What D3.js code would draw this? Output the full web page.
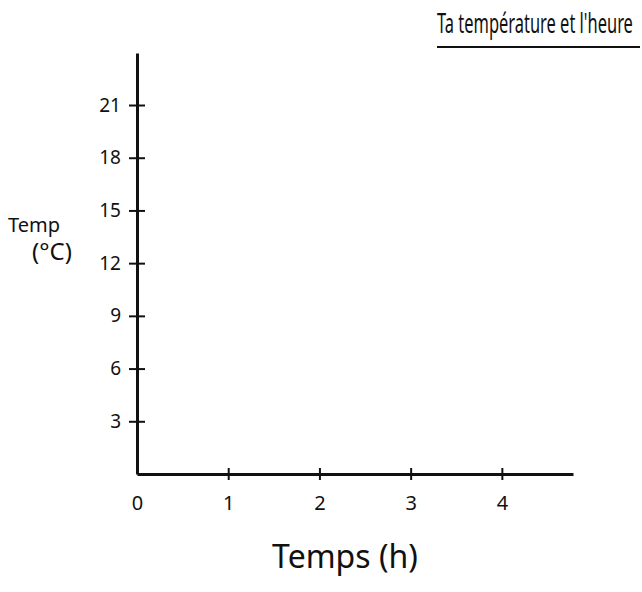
<!DOCTYPE html>
<html><head><meta charset="utf-8">
<script src="https://cdn.jsdelivr.net/npm/d3@7"></script>
<style>body{margin:0;background:#fff}svg{display:block}text{font-family:"Noto Sans",sans-serif;fill:#111}</style>
</head><body>
<script>
const title = "Ta température et l'heure";
const xLabel = "Temps (h)";
const yLabelLines = ["Temp", "(°C)"];
const xTicks = [0, 1, 2, 3, 4];
const yTicks = [3, 6, 9, 12, 15, 18, 21];
const xDomain = [0, 4.78];
const yDomain = [0, 23.96];

const W = 642, H = 592;
const svg = d3.select("body").append("svg").attr("width", W).attr("height", H);
const x = d3.scaleLinear().domain(xDomain).range([137, 573]);
const y = d3.scaleLinear().domain(yDomain).range([474, 53]);

const gx = svg.append("g").attr("transform", `translate(0,${y(0)})`)
  .call(d3.axisBottom(x).tickValues(xTicks).tickFormat(d3.format("d")).tickSize(6).tickSizeOuter(0).tickPadding(16));
gx.select(".domain").attr("stroke", "#111").attr("stroke-width", 3);
gx.selectAll(".tick line").attr("stroke", "#111").attr("stroke-width", 2).attr("y1", -6).attr("y2", 6)
  .filter(d => d === 0).remove();
gx.selectAll(".tick text").attr("font-size", 20).attr("font-family", "Noto Sans").attr("fill", "#111");

const gy = svg.append("g").attr("transform", `translate(${x(0)},0)`)
  .call(d3.axisLeft(y).tickValues(yTicks).tickFormat(d3.format("d")).tickSize(8).tickSizeOuter(0).tickPadding(8));
gy.select(".domain").attr("stroke", "#111").attr("stroke-width", 3);
gy.selectAll(".tick line").attr("stroke", "#111").attr("stroke-width", 2).attr("x1", -8).attr("x2", 8);
gy.selectAll(".tick text").attr("font-size", 19).attr("font-family", "Noto Sans").attr("fill", "#111");

const tg = svg.append("g");
const tt = tg.append("text").attr("x", 0).attr("y", 0).attr("font-size", 27).text(title);
const natural = tt.node().getComputedTextLength();
tg.attr("transform", `translate(437,33) scale(${196 / natural},1)`);
svg.append("line").attr("x1", 437).attr("x2", 640).attr("y1", 47).attr("y2", 47)
  .attr("stroke", "#111").attr("stroke-width", 2);

svg.append("text").attr("x", 345).attr("y", 568).attr("text-anchor", "middle")
  .attr("font-size", 32).text(xLabel);

svg.append("text").attr("x", 34).attr("y", 232).attr("text-anchor", "middle")
  .attr("font-size", 20).text(yLabelLines[0]);
svg.append("text").attr("x", 52).attr("y", 260).attr("text-anchor", "middle")
  .attr("font-size", 24).text(yLabelLines[1]);
</script>
</body></html>
